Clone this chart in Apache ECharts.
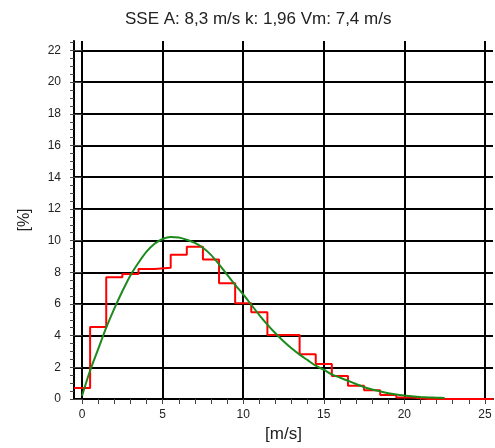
<!DOCTYPE html>
<html><head><meta charset="utf-8">
<script src="https://cdn.jsdelivr.net/npm/echarts@6/dist/echarts.min.js"></script>
<style>html,body{margin:0;padding:0;background:#fff}#c{width:495px;height:448px}</style>
</head><body><div id="c"></div>
<script>
const titleText = 'SSE A: 8,3 m/s k: 1,96 Vm: 7,4 m/s';
const xName = '[m/s]';
const yName = '[%]';
// histogram: bins of 1 m/s centred on integer speeds
const binCenters = [0,1,2,3,4,5,6,7,8,9,10,11,12,13,14,15,16,17,18,19,20,21,22,23,24,25];
const histValues = [0.7,4.55,7.68,7.89,8.2,8.28,9.1,9.61,8.81,7.3,6.05,5.47,4.04,4.04,2.82,2.21,1.45,0.84,0.55,0.25,0.1,0,0,0,0,0];
// fitted distribution curve
const curveSpeeds = [0,0.5,1,1.5,2,2.5,3,3.5,4,4.5,5,5.5,6,6.5,7,7.5,8,8.5,9,9.5,10,10.5,11,11.5,12,12.5,13,13.5,14,14.5,15,15.5,16,16.5,17,17.5,18,18.5,19,19.5,20,20.5,21,21.5,22,22.5];
const curveValues = [0.2,1.8,3.15,4.5,5.7,6.8,7.8,8.6,9.3,9.8,10.1,10.22,10.2,10.05,9.85,9.55,9.1,8.5,7.85,7.2,6.6,5.95,5.3,4.7,4.15,3.65,3.2,2.8,2.45,2.1,1.85,1.55,1.35,1.15,0.95,0.75,0.6,0.48,0.36,0.28,0.22,0.17,0.13,0.1,0.08,0.06];
const xMajorTicks = [0,5,10,15,20,25];
const xMinorTicks = [0,1,2,3,4,5,6,7,8,9,10,11,12,13,14,15,16,17,18,19,20,21,22,23,24,25];
const yMajorTicks = [0,2,4,6,8,10,12,14,16,18,20,22];
const yMinorTicks = [0,0.5,1,1.5,2,2.5,3,3.5,4,4.5,5,5.5,6,6.5,7,7.5,8,8.5,9,9.5,10,10.5,11,11.5,12,12.5,13,13.5,14,14.5,15,15.5,16,16.5,17,17.5,18,18.5,19,19.5,20,20.5,21,21.5,22,22.5];

const histData = binCenters.map((c, i) => [c - 0.5, histValues[i]]);
histData.push([binCenters[binCenters.length - 1] + 0.5, histValues[histValues.length - 1]]);
const curveData = curveSpeeds.map((s, i) => [s, curveValues[i]]);

const FONT = 'Liberation Sans, Arial, sans-serif';
const chart = echarts.init(document.getElementById('c'), null, {renderer: 'canvas'});
const xRange = {min: -0.5, max: 25.5};
const yRange = {min: 0, max: 22.6};
chart.setOption({
  animation: false,
  backgroundColor: '#fff',
  title: {
    text: titleText, left: 120, top: 6, padding: 5,
    textStyle: {fontFamily: FONT, fontSize: 17, fontWeight: 'normal', color: '#222'}
  },
  grid: {left: 74, right: 2, top: 41, bottom: 49, containLabel: false, outerBoundsMode: 'none'},
  xAxis: [
    {
      type: 'value', position: 'bottom', ...xRange,
      name: xName, nameLocation: 'middle', nameGap: 26,
      nameTextStyle: {fontFamily: FONT, fontSize: 17, color: '#222'},
      axisLine: {show: true, onZero: false, lineStyle: {color: '#000', width: 2}},
      axisTick: {show: true, inside: false, length: 5, customValues: xMinorTicks, lineStyle: {color: '#444', width: 1}},
      axisLabel: {show: true, margin: 10, customValues: xMajorTicks, fontFamily: FONT, fontSize: 12, color: '#222'},
      splitLine: {show: false}
    },
    {
      type: 'value', position: 'bottom', ...xRange,
      axisLine: {show: false},
      axisTick: {show: false, customValues: xMajorTicks},
      axisLabel: {show: false},
      splitLine: {show: true, lineStyle: {color: '#000', width: 2}}
    }
  ],
  yAxis: [
    {
      type: 'value', position: 'left', ...yRange,
      name: yName, nameLocation: 'middle', nameGap: 41, nameRotate: 90,
      nameTextStyle: {fontFamily: FONT, fontSize: 16, color: '#222'},
      axisLine: {show: true, onZero: false, lineStyle: {color: '#000', width: 2}},
      axisTick: {show: true, inside: false, length: 4, customValues: yMinorTicks, lineStyle: {color: '#444', width: 1}},
      axisLabel: {show: true, margin: 13, customValues: yMajorTicks, fontFamily: FONT, fontSize: 12, color: '#222'},
      splitLine: {show: false}
    },
    {
      type: 'value', position: 'left', ...yRange,
      axisLine: {show: false},
      axisTick: {show: true, inside: false, length: 8, customValues: yMajorTicks, lineStyle: {color: '#444', width: 1}},
      axisLabel: {show: false},
      splitLine: {show: true, lineStyle: {color: '#000', width: 2}}
    }
  ],
  series: [
    {
      type: 'line', xAxisIndex: 0, yAxisIndex: 0, data: histData, step: 'end',
      symbol: 'none', lineStyle: {color: '#ff0000', width: 2}, z: 3
    },
    {
      type: 'line', xAxisIndex: 0, yAxisIndex: 0, data: curveData, smooth: 0.3,
      symbol: 'none', lineStyle: {color: '#1a8a1a', width: 2}, z: 4
    }
  ]
});
</script></body></html>
